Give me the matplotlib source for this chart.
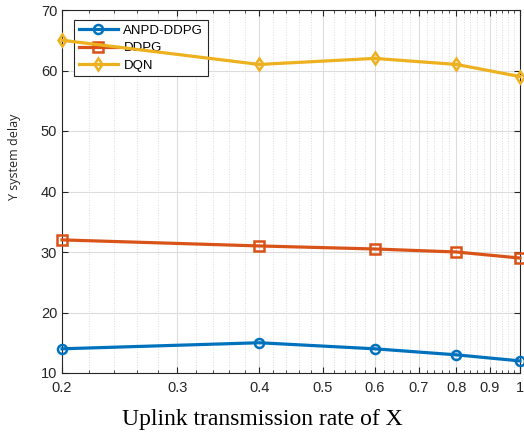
import numpy as np
import matplotlib
matplotlib.use("Agg")
import matplotlib.pyplot as plt
from matplotlib.ticker import FixedLocator, NullFormatter

x_rate = [0.2, 0.4, 0.6, 0.8, 1.0]
anpd_ddpg = [14, 15, 14, 13, 12]
ddpg = [32, 31, 30.5, 30, 29]
dqn = [65, 61, 62, 61, 59]
x_ticks = [0.2, 0.3, 0.4, 0.5, 0.6, 0.7, 0.8, 0.9, 1.0]
x_tick_labels = ['0.2', '0.3', '0.4', '0.5', '0.6', '0.7', '0.8', '0.9', '1']
y_ticks = [10, 20, 30, 40, 50, 60, 70]

fig = plt.figure(figsize=(5.24, 4.34), dpi=100)
ax = fig.add_axes([62/524, 1-373/434, (520-62)/524, (373-10)/434])

series = [
    ('ANPD-DDPG', anpd_ddpg, '#0072BD', 'o'),
    ('DDPG', ddpg, '#D95319', 's'),
    ('DQN', dqn, '#EDB120', 'd'),
]
for name, vals, col, mk in series:
    ax.plot(x_rate, vals, color=col, lw=2.3, marker=mk, ms=6.5,
            mfc='none', mec=col, mew=1.8, label=name, clip_on=False, zorder=6)

ax.set_xscale('log')
ax.set_xlim(0.2, 1.0)
ax.set_ylim(10, 70)
ax.xaxis.set_major_locator(FixedLocator(x_ticks))
ax.set_xticklabels(x_tick_labels)
ax.xaxis.set_minor_locator(FixedLocator(np.arange(0.2, 1.0001, 0.02)))
ax.xaxis.set_minor_formatter(NullFormatter())
ax.set_yticks(y_ticks)

ax.grid(which='major', color='#dcdcdc', lw=0.8, ls='-')
ax.grid(which='minor', axis='x', color='#dcdcdc', lw=0.7, ls=':')
ax.set_axisbelow(True)

for s in ax.spines.values():
    s.set_color('#262626')
    s.set_linewidth(0.8)
ax.tick_params(which='both', direction='in', top=True, right=True, colors='#262626',
               labelcolor='#262626')
ax.tick_params(which='major', length=4, labelsize=10.5)
ax.tick_params(axis='x', which='major', pad=6)
ax.tick_params(which='minor', length=2)
for lbl in ax.get_xticklabels() + ax.get_yticklabels():
    lbl.set_family('Liberation Sans')

ax.set_ylabel('Y system delay', family='Open Sans', fontsize=9, color='#262626')
ax.yaxis.set_label_coords(-0.0895, 0.595)
fig.text(0.5, 1-420/434, 'Uplink transmission rate of X', family='Liberation Serif',
         fontsize=17, ha='center', va='center', color='black')

leg = ax.legend(loc='upper left', bbox_to_anchor=(0.026, 0.973),
                handlelength=3.0, frameon=True, fancybox=False, edgecolor='#262626',
                facecolor='white', framealpha=1.0,
                borderpad=0.35, labelspacing=0.4, handletextpad=0.4, borderaxespad=0,
                prop={'family': 'Liberation Sans', 'size': 9.5})
leg.get_frame().set_linewidth(0.8)
leg.set_zorder(4)

fig.savefig('out.png', dpi=100)
